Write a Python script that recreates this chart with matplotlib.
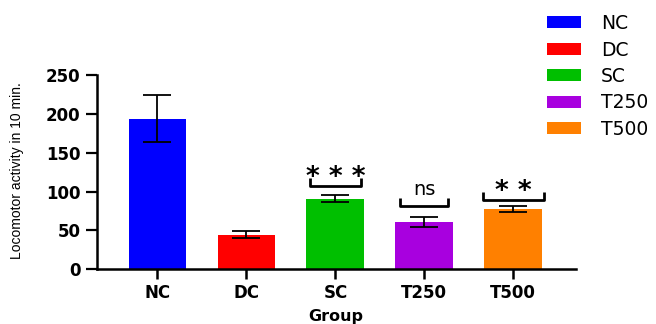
import matplotlib.pyplot as plt
from matplotlib.patches import Patch

# group means and error (SEM) for locomotor counts
groups = ['NC', 'DC', 'SC', 'T250', 'T500']
means = [194, 44.5, 91, 61, 78]
errors = [30, 4.5, 4, 6.5, 4]
colors = ['#0000FF', '#FF0000', '#00BF00', '#A800DF', '#FF8000']

# significance marks drawn over the treated groups
sig_labels = ['', '', '* * *', 'ns', '* *']
bracket_base = [0, 0, 107, 82, 89]
bracket_half = [0, 0, 0.29, 0.27, 0.345]

fig = plt.figure(figsize=(6.56, 3.24), dpi=100)
ax = fig.add_axes([0.1474, 0.1688, 0.730, 0.5997])

x = list(range(len(groups)))
ax.bar(x, means, width=0.65, color=colors, zorder=2)
ax.errorbar(x, means, yerr=errors, fmt='none', ecolor='black',
            elinewidth=1.3, capsize=10.4, capthick=1.3, zorder=3)

for i, lab in enumerate(sig_labels):
    if not lab:
        continue
    y0 = bracket_base[i]
    hw = bracket_half[i]
    h = 10
    ax.plot([x[i] - hw, x[i] - hw, x[i] + hw, x[i] + hw],
            [y0 + h, y0, y0, y0 + h], color='black', lw=2,
            solid_capstyle='butt', clip_on=False)
    if lab == 'ns':
        ax.text(x[i], y0 + 13, lab, ha='center', va='baseline',
                fontsize=14)
    else:
        ax.text(x[i], y0 + 1, lab, ha='center', va='baseline',
                fontsize=19, fontweight='bold')

ax.set_xlim(-0.683, 4.70)
ax.set_ylim(0, 250)
ax.set_yticks([0, 50, 100, 150, 200, 250])
ax.set_xticks(x)
ax.set_xticklabels(groups)

for side in ['top', 'right']:
    ax.spines[side].set_visible(False)
for side in ['left', 'bottom']:
    ax.spines[side].set_linewidth(1.8)

ax.tick_params(axis='y', length=8, width=1.6, pad=3.5)
ax.tick_params(axis='x', length=7, width=1.8, pad=3.5)
for lbl in ax.get_xticklabels() + ax.get_yticklabels():
    lbl.set_fontweight('bold')
    lbl.set_fontsize(12)

ax.set_xlabel('Group', fontsize=11.5, fontweight='bold', labelpad=5)
ax.set_ylabel('Locomotor activity in 10 min.', fontsize=10,
              family=['Liberation Sans Narrow', 'Liberation Sans'])
ax.yaxis.set_label_coords(-0.152, 0.51)

handles = [Patch(facecolor=c, edgecolor='none') for c in colors]
fig.legend(handles, groups, loc='upper left',
           bbox_to_anchor=(546.7 / 656, 1 - 14 / 324),
           frameon=False, fontsize=13.5, borderpad=0, borderaxespad=0,
           handlelength=1.85, handleheight=0.6, handletextpad=1.05,
           labelspacing=0.40)

fig.savefig('out.png', dpi=100)
